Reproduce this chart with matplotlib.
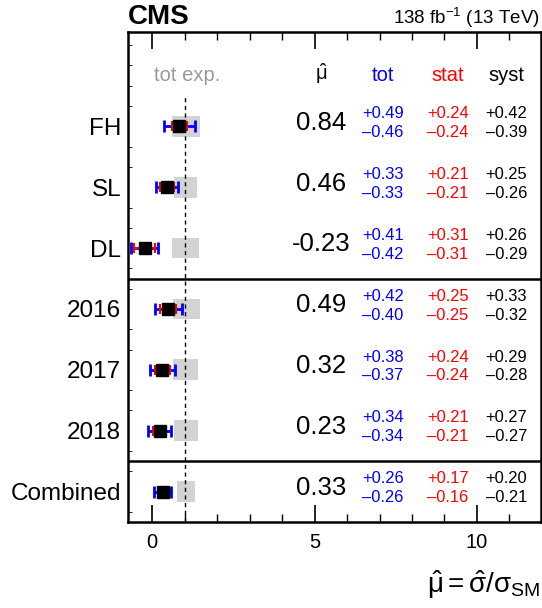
import matplotlib
matplotlib.use("Agg")
import matplotlib.pyplot as plt
from matplotlib.patches import Rectangle
from matplotlib.ticker import MultipleLocator

plt.rcParams['font.family'] = ['Liberation Sans', 'DejaVu Sans']
plt.rcParams['mathtext.fontset'] = 'custom'
plt.rcParams['mathtext.rm'] = 'Liberation Sans'
plt.rcParams['mathtext.it'] = 'Liberation Sans'
plt.rcParams['mathtext.default'] = 'regular'

labels = ["FH", "SL", "DL", "2016", "2017", "2018", "Combined"]
mu = [0.84, 0.46, -0.23, 0.49, 0.32, 0.23, 0.33]
tot_up = [0.49, 0.33, 0.41, 0.42, 0.38, 0.34, 0.26]
tot_dn = [0.46, 0.33, 0.42, 0.40, 0.37, 0.34, 0.26]
stat_up = [0.24, 0.21, 0.31, 0.25, 0.24, 0.21, 0.17]
stat_dn = [0.24, 0.21, 0.31, 0.25, 0.24, 0.21, 0.16]
syst_up = [0.42, 0.25, 0.26, 0.33, 0.29, 0.27, 0.20]
syst_dn = [0.39, 0.26, 0.29, 0.32, 0.28, 0.27, 0.21]
exp_up = [0.48, 0.39, 0.45, 0.48, 0.42, 0.42, 0.32]
exp_dn = [0.38, 0.32, 0.38, 0.35, 0.35, 0.32, 0.23]

n = len(labels)
ypos = [n - 1 - i for i in range(n)]

fig = plt.figure(figsize=(5.42, 6.08), dpi=100)
ax = fig.add_axes([128/542, 1 - 522/608, 413/542, 490/608])
ax.set_xlim(-0.74, 11.97)
ax.set_ylim(-0.5, 7.55)

# expected boxes
for i in range(n):
    y = ypos[i]
    ax.add_patch(Rectangle((1 - exp_dn[i], y - 0.17), exp_dn[i] + exp_up[i], 0.34,
                           facecolor='#d3d3d3', edgecolor='none', zorder=1))

ax.plot([1, 1], [-0.5, 6.5], ls=(0, (3, 2.5)), color='black', lw=1, zorder=2)

for i in range(n):
    y = ypos[i]
    ax.errorbar([mu[i]], [y], xerr=[[tot_dn[i]], [tot_up[i]]], fmt='none',
                ecolor='blue', elinewidth=2, capsize=4, capthick=2, zorder=3)
    ax.errorbar([mu[i]], [y], xerr=[[stat_dn[i]], [stat_up[i]]], fmt='none',
                ecolor='red', elinewidth=1.5, capsize=3.5, capthick=1.5, zorder=4)
    ax.plot([mu[i]], [y], marker='s', ms=8.5, color='black', ls='none', zorder=5)

# separators
ax.axhline(0.5, color='black', lw=1.8)
ax.axhline(3.5, color='black', lw=1.8)

# text columns
xc_mu, xc_tot, xc_stat, xc_syst = 5.2, 7.1, 9.1, 10.9
hy = 6.83
ax.text(1.08, hy, "tot exp.", color='#999999', fontsize=14.5, ha='center', va='center')
ax.text(xc_mu, hy + 0.03, r"$\hat{\mu}$", color='black', fontsize=14.5, ha='center', va='center')
ax.text(xc_tot, hy, "tot", color='blue', fontsize=14.5, ha='center', va='center')
ax.text(xc_stat, hy, "stat", color='red', fontsize=14.5, ha='center', va='center')
ax.text(xc_syst, hy, "syst", color='black', fontsize=14.5, ha='center', va='center')

for i in range(n):
    y = ypos[i]
    ax.text(xc_mu, y + 0.06, f"{mu[i]:.2f}", fontsize=18.5, ha='center', va='center')
    for xc, up, dn, col in [(xc_tot, tot_up, tot_dn, 'blue'),
                            (xc_stat, stat_up, stat_dn, 'red'),
                            (xc_syst, syst_up, syst_dn, 'black')]:
        ax.text(xc, y + 0.21, f"+{up[i]:.2f}", color=col, fontsize=11.9, ha='center', va='center')
        ax.text(xc, y - 0.1, f"\u2013{dn[i]:.2f}", color=col, fontsize=11.9, ha='center', va='center')

ax.set_yticks(ypos)
ax.set_yticklabels(labels, fontsize=17.5)
ax.tick_params(axis='y', which='major', length=0, pad=5)
ax.yaxis.set_minor_locator(MultipleLocator(1/3))
ax.tick_params(axis='y', which='minor', direction='in', length=3, left=True, right=False)

ax.set_xticks([0, 5, 10])
ax.xaxis.set_minor_locator(MultipleLocator(1))
ax.tick_params(axis='x', which='major', direction='in', length=12, width=1.2, top=True, labelsize=14.5, pad=8)
ax.tick_params(axis='x', which='minor', direction='in', length=6, width=1, top=True)

for s in ax.spines.values():
    s.set_linewidth(1.8)

fig.text(128/542, 1 - 17/608, "CMS", fontsize=20, fontweight='bold', ha='left', va='center')
fig.text(540/542, 1 - 18/608, r"138 fb$^{-1}$ (13 TeV)", fontsize=13.5, ha='right', va='center')
fig.text(540/542, 1 - 585/608, r"$\hat{\mu} = \hat{\sigma}/\sigma_{SM}$", fontsize=20,
         ha='right', va='center')

fig.savefig("out.png", dpi=100)
